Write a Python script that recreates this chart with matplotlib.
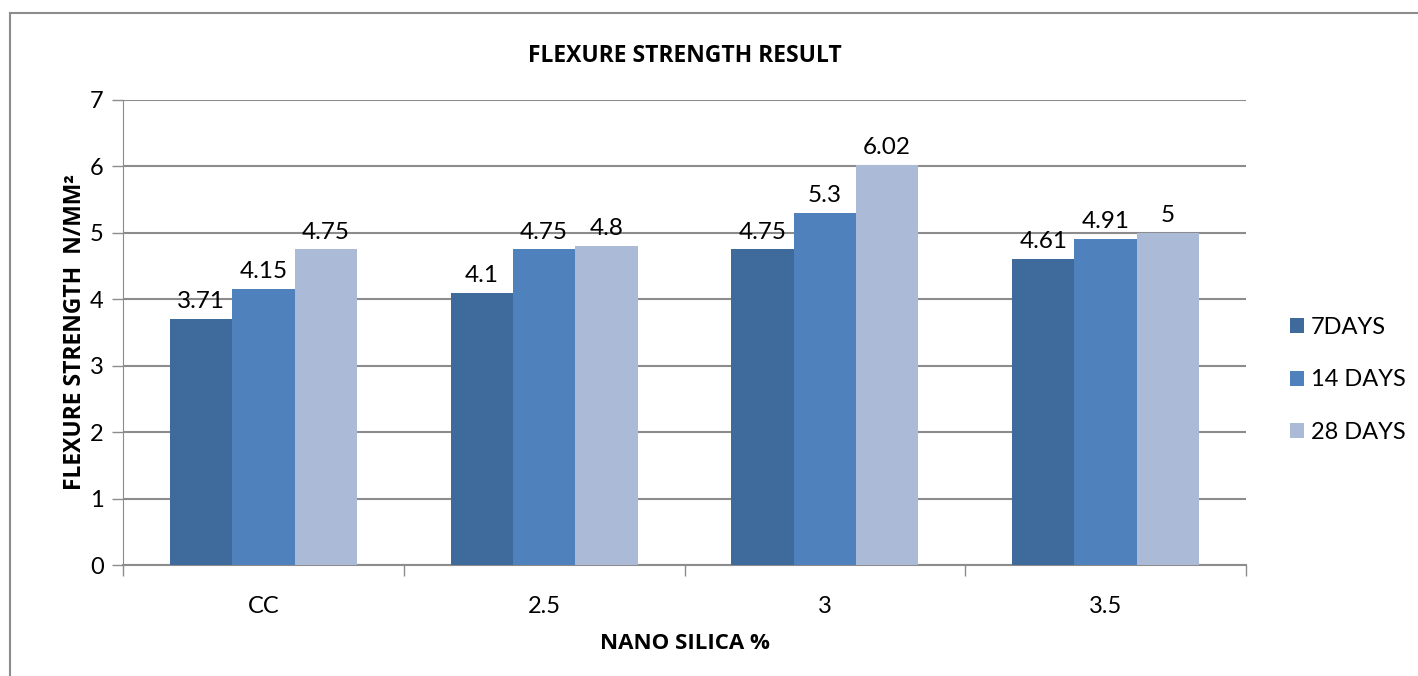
import matplotlib.pyplot as plt
from matplotlib.lines import Line2D
import numpy as np

# flexure strength (N/mm2) by nano silica content and curing age
categories = ['CC', '2.5', '3', '3.5']
days7 = [3.71, 4.1, 4.75, 4.61]
days14 = [4.15, 4.75, 5.3, 4.91]
days28 = [4.75, 4.8, 6.02, 5.0]
series_names = ['7DAYS', '14 DAYS', '28 DAYS']

colors = ['#3F6A9C', '#4F81BD', '#AABAD7']
grid_col = '#8C8C8C'

plt.rcParams['font.family'] = ['Lato', 'DejaVu Sans']
bold_font = dict(family=['Open Sans', 'DejaVu Sans'], fontweight='bold')

fig = plt.figure(figsize=(14.18, 6.76), dpi=100)
ax = fig.add_axes([123/1418, 1 - 565/676, (1246 - 123)/1418, (565 - 100)/676])

x = np.arange(len(categories))
w = 0.222
for i, (vals, name) in enumerate(zip([days7, days14, days28], series_names)):
    bars = ax.bar(x + (i - 1) * w, vals, w, color=colors[i], label=name, zorder=3)
    for b, v in zip(bars, vals):
        ax.annotate('%g' % v, (b.get_x() + b.get_width() / 2, v),
                    xytext=(0, 5), textcoords='offset points',
                    ha='center', va='bottom', fontsize=17.5, color='black')

ax.set_xlim(-0.5, 3.5)
ax.set_ylim(0, 7)
ax.set_yticks(range(8))
ax.yaxis.grid(True, color=grid_col, linewidth=1.5, zorder=0)
ax.set_axisbelow(True)

# category boundary ticks on x axis
ax.set_xticks(np.arange(-0.5, 4, 1))
ax.set_xticklabels([])
ax.set_xticks(x, minor=True)
ax.set_xticklabels(categories, minor=True, fontsize=17)
ax.tick_params(axis='x', which='major', length=8, color=grid_col, width=1)
ax.tick_params(axis='x', which='minor', length=0, pad=22)
ax.tick_params(axis='y', length=8, color=grid_col, width=1, labelsize=17, pad=6)

for s in ['top', 'right']:
    ax.spines[s].set_visible(False)
ax.spines['left'].set_color(grid_col)
ax.spines['bottom'].set_color(grid_col)
ax.spines['bottom'].set_linewidth(1.5)

ax.set_title('FLEXURE STRENGTH RESULT', fontsize=16.5, pad=27, **bold_font)
ax.set_xlabel('NANO SILICA %', fontsize=16, labelpad=12, **bold_font)
ax.set_ylabel('FLEXURE STRENGTH  N/MM²', fontsize=16.5, labelpad=2, **bold_font)

ax.legend(loc='center left', bbox_to_anchor=(1.02, 0.398), frameon=False,
          fontsize=17, handlelength=0.6, handleheight=0.6, handletextpad=0.3,
          labelspacing=1.35)

# outer chart frame (top and left edges)
fig.add_artist(Line2D([10/1418, 10/1418], [0, 1 - 13/676], color='#8C8C8C', linewidth=1.5))
fig.add_artist(Line2D([10/1418, 1], [1 - 13/676, 1 - 13/676], color='#8C8C8C', linewidth=1.5))

plt.savefig('out.png', dpi=100)
